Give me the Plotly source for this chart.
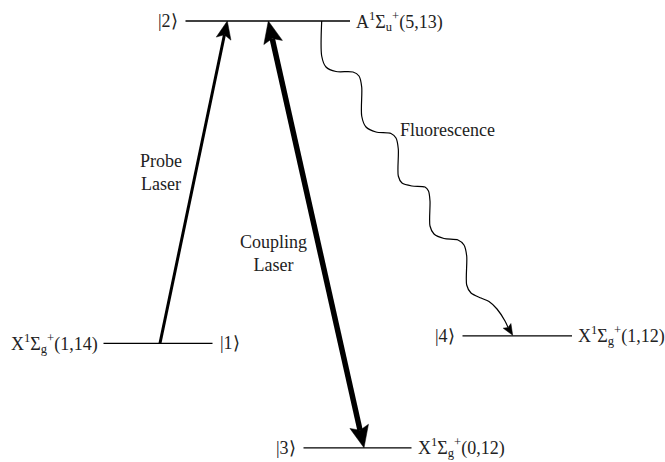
import numpy as np
import plotly.graph_objects as go

W_PX, H_PX = 665, 462

# ---- data: energy levels (pixel-space diagram) ----
level_ids = ["1", "2", "3", "4"]
level_y = [343.3, 21.0, 447.8, 335.8]
level_x0 = [103.5, 185.5, 303.5, 462.5]
level_x1 = [212.5, 350.0, 411.5, 572.0]
ket_labels = ["|1\u27e9", "|2\u27e9", "|3\u27e9", "|4\u27e9"]
ket_side = ["right", "left", "left", "left"]
state_labels = ["X<sup>1</sup>\u03a3<sub>g</sub><sup>+</sup>(1,14)",
                "A<sup>1</sup>\u03a3<sub>u</sub><sup>+</sup>(5,13)",
                "X<sup>1</sup>\u03a3<sub>g</sub><sup>+</sup>(0,12)",
                "X<sup>1</sup>\u03a3<sub>g</sub><sup>+</sup>(1,12)"]
state_side = ["left", "right", "right", "right"]

# transitions: x positions on lower / upper level
probe_x = [160.0, 227.3]       # on level 1 -> level 2
coupling_x = [268.3, 364.0]    # on level 2 <-> level 3
fluor_path_x = [321.7, 321.7, 326, 336, 353, 359, 361.7, 361.7, 366, 376, 391, 396, 398.3,
                398.3, 402, 412, 425, 428.5, 430, 430, 434, 444, 458, 464, 466.7, 466.7,
                471, 481, 489, 497, 505, 512.7]
fluor_path_y = [21, 56, 67, 71.5, 72, 76, 87, 116, 127, 132, 133.5, 138, 149,
                176, 183, 186, 187, 191, 201, 226, 234, 238.5, 240, 245, 256, 285,
                293, 298, 301.5, 309, 321, 335.3]

text_labels = [("Probe<br>Laser", 161, 172), ("Coupling<br>Laser", 273, 253), ("Fluorescence", 447, 130)]

FONT = "Times New Roman, Liberation Serif, serif"
TXT = "#222222"

fig = go.Figure()


def head(tip, tail, L, hw, notch):
    tip = np.array(tip, float); tail = np.array(tail, float)
    d = tip - tail
    d /= np.linalg.norm(d)
    p = np.array([-d[1], d[0]])
    base = tip - d * L
    left = base + p * hw
    right = base - p * hw
    nt = tip - d * (L - notch)
    poly = np.array([tip, left, nt, right, tip])
    return poly, nt


def add_poly(poly):
    fig.add_trace(go.Scatter(x=poly[:, 0], y=poly[:, 1], mode="lines", fill="toself",
                             fillcolor="black", line=dict(color="black", width=0.5),
                             hoverinfo="skip", showlegend=False))


# levels
for i in range(len(level_ids)):
    fig.add_trace(go.Scatter(x=[level_x0[i], level_x1[i]], y=[level_y[i], level_y[i]],
                             mode="lines", line=dict(color="black", width=1.3),
                             hoverinfo="skip", showlegend=False))

# probe arrow
p_tail = (probe_x[0], level_y[0]); p_tip = (probe_x[1], level_y[1])
poly, nt = head(p_tip, p_tail, 18, 7.5, 4)
fig.add_trace(go.Scatter(x=[p_tail[0], nt[0]], y=[p_tail[1], nt[1]], mode="lines",
                         line=dict(color="black", width=3), hoverinfo="skip", showlegend=False))
add_poly(poly)

# coupling arrow (double headed)
c_a = (coupling_x[0], level_y[1]); c_b = (coupling_x[1], level_y[2])
polyA, ntA = head(c_a, c_b, 22, 9.5, 4)
polyB, ntB = head(c_b, c_a, 22, 9.5, 4)
fig.add_trace(go.Scatter(x=[ntA[0], ntB[0]], y=[ntA[1], ntB[1]], mode="lines",
                         line=dict(color="black", width=5.5), hoverinfo="skip", showlegend=False))
add_poly(polyA); add_poly(polyB)

# fluorescence wavy arrow
fx = list(fluor_path_x); fy = list(fluor_path_y)
polyF, ntF = head((fx[-1], fy[-1]), (fx[-3], fy[-3]), 11, 4.5, 2)
fx[-1], fy[-1] = ntF[0], ntF[1]
fig.add_trace(go.Scatter(x=fx, y=fy, mode="lines", line=dict(color="black", width=1.2, shape="spline", smoothing=0.8),
                         hoverinfo="skip", showlegend=False))
add_poly(polyF)

ann = []
for i in range(len(level_ids)):
    y = level_y[i]
    if ket_side[i] == "left":
        ann.append(dict(x=level_x0[i] - 6, y=y, text=ket_labels[i], xanchor="right"))
    else:
        ann.append(dict(x=level_x1[i] + 5, y=y, text=ket_labels[i], xanchor="left"))
    if state_side[i] == "left":
        ann.append(dict(x=level_x0[i] - 4, y=y, text=state_labels[i], xanchor="right"))
    else:
        ann.append(dict(x=level_x1[i] + 4, y=y, text=state_labels[i], xanchor="left"))
for t, x, y in text_labels:
    ann.append(dict(x=x, y=y, text=t, xanchor="center"))
for a in ann:
    a.update(xref="x", yref="y", yanchor="middle", showarrow=False,
             font=dict(family=FONT, size=18, color=TXT), align="center")

fig.update_layout(width=W_PX, height=H_PX, margin=dict(l=0, r=0, t=0, b=0),
                  paper_bgcolor="white", plot_bgcolor="white", annotations=ann,
                  font=dict(family=FONT),
                  xaxis=dict(range=[0, W_PX], visible=False, fixedrange=True),
                  yaxis=dict(range=[H_PX, 0], visible=False, fixedrange=True))
fig.write_html("out.html", config={"displayModeBar": False},
               post_script="document.body.style.margin='0';document.body.style.padding='0';")
